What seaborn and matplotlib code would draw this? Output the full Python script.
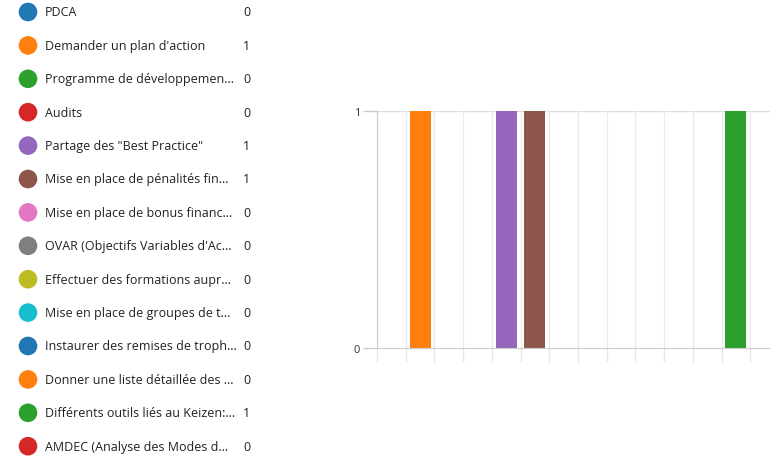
import matplotlib.pyplot as plt
import numpy as np
import pandas as pd
import seaborn as sns

labels = [
    "PDCA",
    "Demander un plan d'action",
    "Programme de développemen...",
    "Audits",
    'Partage des "Best Practice"',
    "Mise en place de pénalités fin...",
    "Mise en place de bonus financ...",
    "OVAR (Objectifs Variables d'Ac...",
    "Effectuer des formations aupr...",
    "Mise en place de groupes de t...",
    "Instaurer des remises de troph...",
    "Donner une liste détaillée des ...",
    "Différents outils liés au Keizen:...",
    "AMDEC (Analyse des Modes d...",
]
counts = [0, 1, 0, 0, 1, 1, 0, 0, 0, 0, 0, 0, 1, 0]

sns.set_style("white")
plt.rcParams['font.family'] = ['Open Sans', 'DejaVu Sans']

palette = sns.color_palette("tab10", 10)
colors = [palette[i % 10] for i in range(len(labels))]
df = pd.DataFrame({"label": labels, "count": counts, "idx": range(len(labels))})

W, H = 770, 460
fig = plt.figure(figsize=(W / 100, H / 100), dpi=100)

# legend list on the left
leg = fig.add_axes([0, 0, 1, 1])
leg.set_xlim(0, W)
leg.set_ylim(H, 0)
leg.axis("off")
row_y = 13 + 33.4 * df["idx"]
sns.scatterplot(x=np.full(len(df), 28), y=row_y, hue=df["label"], palette=colors,
                s=180, edgecolor="none", legend=False, ax=leg)
for y, lab, c in zip(row_y, labels, counts):
    leg.text(45, y, lab, fontsize=9, va="center", ha="left", color="#222222")
    leg.text(243, y, str(c), fontsize=9, va="center", ha="left", color="#222222")

# bar chart
ax = fig.add_axes([377 / W, 1 - 349 / H, 402 / W, 237 / H])
sns.barplot(data=df, x="idx", y="count", hue="label", palette=colors, dodge=False,
            width=0.73, saturation=1, linewidth=0, legend=False, ax=ax)
ax.set_xlim(-0.5, len(labels) - 0.5)
ax.set_ylim(0, 1)
ax.set_xlabel("")
ax.set_ylabel("")
ax.set_xticks(np.arange(-0.5, len(labels), 1.0))
ax.set_xticklabels([])
ax.tick_params(axis="x", bottom=True, length=10, color="#e6e6e6", width=1)
ax.set_yticks([0, 1])
ax.set_yticklabels(["0", "1"], fontsize=8, color="#333333")
ax.tick_params(axis="y", left=True, length=10, color="#cccccc", width=1, pad=2)
ax.grid(axis="x", color="#ececec", linewidth=1)
ax.axhline(1, color="#dddddd", linewidth=1, zorder=0)
ax.set_axisbelow(True)
for s in ["top", "right"]:
    ax.spines[s].set_visible(False)
ax.spines["left"].set_color("#cccccc")
ax.spines["bottom"].set_color("#cccccc")
ax.spines["left"].set_bounds(0, 1)

fig.savefig("out.png", dpi=100)
